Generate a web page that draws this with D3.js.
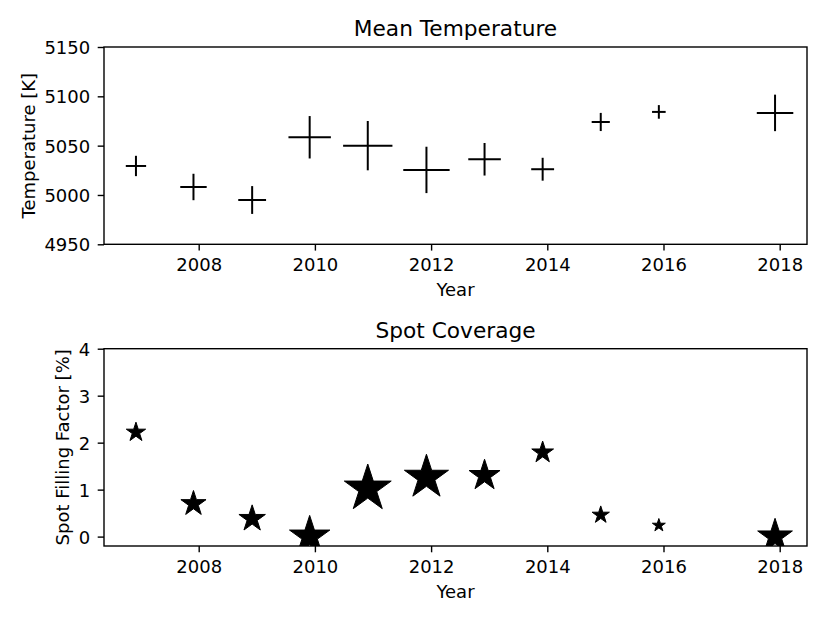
<!DOCTYPE html>
<html>
<head>
<meta charset="utf-8">
<script src="https://cdn.jsdelivr.net/npm/d3@7/dist/d3.min.js"></script>
<style>
  html, body { margin: 0; padding: 0; background: #fff; }
  svg text { font-family: "DejaVu Sans", sans-serif; fill: #000; }
</style>
</head>
<body>
<div id="chart"></div>
<script>
  "use strict"

  // observation epochs (decimal year)
  var years = [2006.92, 2007.91, 2008.92, 2009.91, 2010.91, 2011.92, 2012.92, 2013.92, 2014.92, 2015.92, 2017.92]

  // mean temperature [K]
  var temperature = [5029.4, 5008.1, 4994.9, 5058.5, 5050.0, 5025.4, 5036.2, 5026.1, 5074.0, 5084.2, 5083.2]

  // temperature uncertainty [K], also drives marker size in both panels
  var tempError = [10.3, 13.4, 14.1, 21.5, 25.0, 23.5, 16.5, 11.6, 9.2, 6.9, 18.5]

  // spot filling factor [%]
  var spotFactor = [2.22, 0.70, 0.38, 0.00, 1.02, 1.26, 1.30, 1.79, 0.46, 0.24, 0.00]

  var xTicks = [2008, 2010, 2012, 2014, 2016, 2018]
    , tempTicks = [4950, 5000, 5050, 5100, 5150]
    , spotTicks = [0, 1, 2, 3, 4]

  var width = 830
    , height = 622
    , left = 104
    , right = 807
    , fontSize = 18
    , tickLen = 6.3

  var svg = d3.select("#chart")
    .append("svg")
    .attr("width", width)
    .attr("height", height)

  // matplotlib-like 5% margin on x
  var ext = d3.extent(years)
    , pad = (ext[1] - ext[0]) * 0.05

  var x = d3.scaleLinear()
    .domain([ext[0] - pad, ext[1] + pad])
    .range([left, right])

  var yTemp = d3.scaleLinear().domain([4950, 5150]).range([244.3, 47])
    , ySpot = d3.scaleLinear().domain([-0.2, 4]).range([546, 348.7])

  // marker half-size in px from the temperature error
  var markerSize = function (err) {
    return yTemp(5150 - err) - yTemp(5150)
  }

  var data = years.map(function (yr, i) {
    return { year: yr, temp: temperature[i], err: tempError[i], spot: spotFactor[i] }
  })

  function drawPanel (opts) {
    var y = opts.y
      , top = y.range()[1]
      , bottom = y.range()[0]
      , g = svg.append("g")

    g.append("clipPath")
      .attr("id", opts.id)
      .append("rect")
        .attr("x", left)
        .attr("y", top)
        .attr("width", right - left)
        .attr("height", bottom - top)

    var marks = g.append("g")
    if (opts.clip) marks.attr("clip-path", "url(#" + opts.id + ")")
    opts.marks(marks)

    // x axis
    var xAxis = g.append("g")
      .attr("transform", "translate(0," + bottom + ")")
      .call(d3.axisBottom(x).tickValues(xTicks).tickFormat(d3.format("d"))
        .tickSize(tickLen).tickPadding(6.5))

    // y axis
    var yAxis = g.append("g")
      .attr("transform", "translate(" + left + ",0)")
      .call(d3.axisLeft(y).tickValues(opts.ticks).tickFormat(d3.format("d"))
        .tickSize(tickLen).tickPadding(7.5))

    ;[xAxis, yAxis].forEach(function (a) {
      a.select(".domain").remove()
      a.selectAll(".tick line").attr("stroke", "#000").attr("stroke-width", 1.4)
      a.selectAll(".tick text")
        .attr("font-size", fontSize)
        .style("font-family", "DejaVu Sans, sans-serif")
    })
    xAxis.selectAll(".tick text").attr("dy", "0.8em")
    yAxis.selectAll(".tick text").attr("dy", "0.36em")

    // frame
    g.append("rect")
      .attr("x", left)
      .attr("y", top)
      .attr("width", right - left)
      .attr("height", bottom - top)
      .attr("fill", "none")
      .attr("stroke", "#000")
      .attr("stroke-width", 1.4)

    // title
    g.append("text")
      .attr("x", (left + right) / 2)
      .attr("y", top - 11)
      .attr("text-anchor", "middle")
      .attr("font-size", 21.7)
      .text(opts.title)

    // x label
    g.append("text")
      .attr("x", (left + right) / 2)
      .attr("y", bottom + 52)
      .attr("text-anchor", "middle")
      .attr("font-size", fontSize)
      .text("Year")

    // y label
    g.append("text")
      .attr("transform", "translate(" + opts.ylabelX + "," + (top + bottom) / 2 + ") rotate(-90)")
      .attr("text-anchor", "middle")
      .attr("font-size", fontSize)
      .text(opts.ylabel)
  }

  drawPanel({
    id: "clip-temp"
  , y: yTemp
  , ticks: tempTicks
  , title: "Mean Temperature"
  , ylabel: "Temperature [K]"
  , ylabelX: 34.5
  , clip: false
  , marks: function (g) {
      var cross = g.selectAll("g.cross")
        .data(data)
        .enter().append("g")
          .attr("class", "cross")
          .attr("transform", function (d) { return "translate(" + x(d.year) + "," + yTemp(d.temp) + ")" })

      cross.append("line")
        .attr("x1", function (d) { return -markerSize(d.err) })
        .attr("x2", function (d) { return markerSize(d.err) })
        .attr("y1", 0).attr("y2", 0)

      cross.append("line")
        .attr("y1", function (d) { return -markerSize(d.err) })
        .attr("y2", function (d) { return markerSize(d.err) })
        .attr("x1", 0).attr("x2", 0)

      cross.selectAll("line")
        .attr("stroke", "#000")
        .attr("stroke-width", 2)
    }
  })

  drawPanel({
    id: "clip-spot"
  , y: ySpot
  , ticks: spotTicks
  , title: "Spot Coverage"
  , ylabel: "Spot Filling Factor [%]"
  , ylabelX: 69
  , clip: true
  , marks: function (g) {
      var star = d3.symbol().type(d3.symbolStar)
      g.selectAll("path.star")
        .data(data)
        .enter().append("path")
          .attr("class", "star")
          .attr("transform", function (d) { return "translate(" + x(d.year) + "," + ySpot(d.spot) + ")" })
          .attr("d", function (d) {
            var r = markerSize(d.err)
            // d3 star: outer radius = sqrt(size * 0.8908...)
            return star.size(r * r / 0.8908130915292852)()
          })
          .attr("fill", "#000")
          .attr("stroke", "#000")
          .attr("stroke-width", 1)
          .attr("stroke-linejoin", "round")
    }
  })
</script>
</body>
</html>
